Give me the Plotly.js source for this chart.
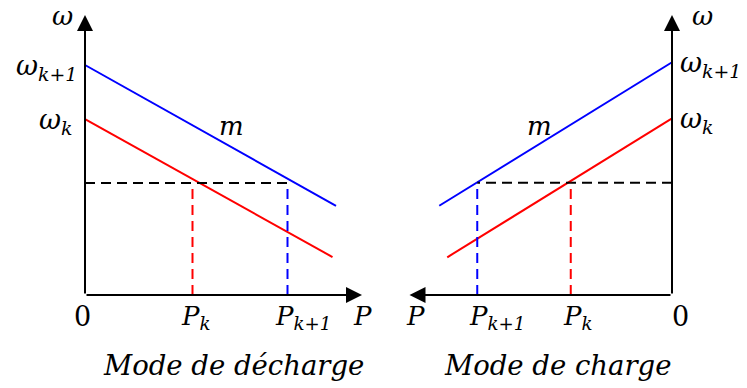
<!DOCTYPE html>
<html><head><meta charset="utf-8">
<script src="https://cdn.plot.ly/plotly-3.0.1.min.js"></script>
<style>html,body{margin:0;padding:0;background:#fff}#chart{width:747px;height:388px}</style>
</head><body><div id="chart"></div>
<script>
// ---- Mode de décharge (left panel) ----
const dechLineP   = [0, 10.04];   // P at ends of the ω_{k+1} (blue) line
const dechOmegaHi = [10.0, 3.88]; // ω on blue line
const dechRedP    = [0, 9.9];     // P at ends of the ω_k (red) line
const dechOmegaLo = [7.65, 1.65]; // ω on red line
const dechOpP     = [4.3, 8.1];   // P_k, P_{k+1}
const dechOpOmega = 4.87;         // operating frequency (dashed)
const dechAxisP   = 11.08;

// ---- Mode de charge (right panel) ----
const chLineP     = [0, 9.31];
const chOmegaHi   = [10.12, 3.88];
const chRedP      = [0, 8.99];
const chOmegaLo   = [7.68, 1.64];
const chOpP       = [4.05, 7.79]; // P_k, P_{k+1}
const chOpOmega   = 4.88;
const chAxisP     = 10.5;

const axisOmega   = 12.17;
const pLabels     = ['P<sub>k</sub>', 'P<sub>k+1</sub>'];
const omegaLabels = ['ω<sub>k</sub>', 'ω<sub>k+1</sub>'];
const titles      = ['Mode de décharge', 'Mode de charge'];

const BLUE = '#0000ff', RED = '#ff0000', FONT = 'DejaVu Serif';
const dash = '10px,6px';

function panel(xa, ya, lineP, omHi, redP, omLo, opP, opOm) {
  return [
    {x: lineP, y: omHi, xaxis: xa, yaxis: ya, mode: 'lines', line: {color: BLUE, width: 2}},
    {x: redP, y: omLo, xaxis: xa, yaxis: ya, mode: 'lines', line: {color: RED, width: 2}},
    {x: [0, opP[1]], y: [opOm, opOm], xaxis: xa, yaxis: ya, mode: 'lines', line: {color: '#000', width: 2, dash: dash}},
    {x: [opP[0], opP[0]], y: [0, opOm], xaxis: xa, yaxis: ya, mode: 'lines', line: {color: RED, width: 2, dash: dash}},
    {x: [opP[1], opP[1]], y: [0, opOm], xaxis: xa, yaxis: ya, mode: 'lines', line: {color: BLUE, width: 2, dash: dash}}
  ];
}

const data = [].concat(
  panel('x', 'y', dechLineP, dechOmegaHi, dechRedP, dechOmegaLo, dechOpP, dechOpOmega),
  panel('x2', 'y2', chLineP, chOmegaHi, chRedP, chOmegaLo, chOpP, chOpOmega)
);

function arrow(xr, yr, x, y, ax, ay) {
  return {xref: xr, yref: yr, axref: xr, ayref: yr, x: x, y: y, ax: ax, ay: ay, text: '',
    showarrow: true, arrowhead: 2, arrowsize: 1.6, arrowwidth: 2, arrowcolor: '#000',
    standoff: 0, startstandoff: 0};
}
function txt(xr, yr, x, y, text, opts, size) {
  return Object.assign({xref: xr, yref: yr, x: x, y: y, text: text, showarrow: false,
    font: {family: FONT, size: size || 26, color: '#000', style: 'italic'}}, opts || {});
}
const upright = {family: FONT, size: 27, color: '#000', style: 'normal'};

const annotations = [
  // left axes
  arrow('x', 'y', dechAxisP, 0, 0, 0),
  arrow('x', 'y', 0, axisOmega, 0, 0),
  // right axes
  arrow('x2', 'y2', chAxisP, 0, 0, 0),
  arrow('x2', 'y2', 0, axisOmega, 0, 0),

  // left labels
  txt('x', 'y', 0, axisOmega, 'ω', {xanchor: 'center', xshift: -23, yshift: -1}),
  txt('x', 'y', 0, dechOmegaHi[0], omegaLabels[1], {xanchor: 'right', xshift: -6, yshift: -2}, 27),
  txt('x', 'y', 0, dechOmegaLo[0], omegaLabels[0], {xanchor: 'right', xshift: -11, yshift: -2}, 27),
  txt('x', 'y', 0, 0, '0', {xanchor: 'center', yanchor: 'top', xshift: -3, yshift: -4, font: upright}),
  txt('x', 'y', dechOpP[0], 0, pLabels[0], {xanchor: 'left', yanchor: 'top', xshift: -14, yshift: -4}),
  txt('x', 'y', dechOpP[1], 0, pLabels[1], {xanchor: 'left', yanchor: 'top', xshift: -15, yshift: -4}),
  txt('x', 'y', dechAxisP, 0, 'P', {xanchor: 'center', yanchor: 'top', xshift: 0, yshift: -4}),
  txt('x', 'y', 5.85, 7.35, 'm', {xanchor: 'center'}),
  txt('x', 'y', 5.95, -3.05, titles[0], {xanchor: 'center'}, 27.5),

  // right labels
  txt('x2', 'y2', 0, axisOmega, 'ω', {xanchor: 'center', xshift: 30, yshift: -1}),
  txt('x2', 'y2', 0, chOmegaHi[0], omegaLabels[1], {xanchor: 'left', xshift: 6, yshift: -2}, 27),
  txt('x2', 'y2', 0, chOmegaLo[0], omegaLabels[0], {xanchor: 'left', xshift: 6, yshift: -2}, 27),
  txt('x2', 'y2', 0, 0, '0', {xanchor: 'center', yanchor: 'top', xshift: 8, yshift: -4, font: upright}),
  txt('x2', 'y2', chOpP[0], 0, pLabels[0], {xanchor: 'left', yanchor: 'top', xshift: -10, yshift: -4}),
  txt('x2', 'y2', chOpP[1], 0, pLabels[1], {xanchor: 'left', yanchor: 'top', xshift: -10, yshift: -4}),
  txt('x2', 'y2', chAxisP, 0, 'P', {xanchor: 'center', yanchor: 'top', xshift: 6, yshift: -4}),
  txt('x2', 'y2', 5.3, 7.35, 'm', {xanchor: 'center'}),
  txt('x2', 'y2', 4.55, -3.05, titles[1], {xanchor: 'center'}, 27.5)
];

const hidden = {visible: false, showgrid: false, zeroline: false, fixedrange: true};
const layout = {
  width: 747, height: 388,
  margin: {l: 0, r: 0, t: 0, b: 0},
  paper_bgcolor: '#fff', plot_bgcolor: '#fff',
  showlegend: false,
  xaxis:  Object.assign({domain: [0, 0.5], range: [-3.4, 11.54]}, hidden),
  yaxis:  Object.assign({domain: [0, 1], range: [-93 / 23, 295 / 23]}, hidden),
  xaxis2: Object.assign({domain: [0.5, 1], range: [11.94, -3.0], anchor: 'y2'}, hidden),
  yaxis2: Object.assign({domain: [0, 1], range: [-93 / 23, 295 / 23], anchor: 'x2'}, hidden),
  annotations: annotations
};

Plotly.newPlot('chart', data, layout, {staticPlot: true, displayModeBar: false});
</script>
</body></html>
